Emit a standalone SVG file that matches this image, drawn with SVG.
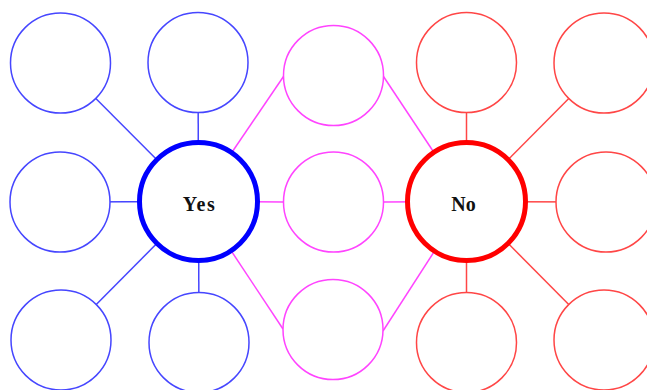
<svg xmlns="http://www.w3.org/2000/svg" width="647" height="390" viewBox="0 0 647 390">
<style>
.b{fill:#fff;stroke:#4646ff;stroke-width:1.5}
.m{fill:#fff;stroke:#ff44ff;stroke-width:1.5}
.r{fill:#fff;stroke:#ff4646;stroke-width:1.5}
.lb{stroke:#4646ff;stroke-width:1.5}
.lm{stroke:#ff44ff;stroke-width:1.5}
.lr{stroke:#ff4646;stroke-width:1.5}
.big{fill:#fff;stroke-width:5}
.t{font-family:"Liberation Serif",serif;font-size:20px;font-weight:bold;fill:#111;text-anchor:middle}
</style>
<rect width="647" height="390" fill="#fff"/>
<g id="connectors">
<line class="lb" x1="198.5" y1="201.5" x2="60.5" y2="63"/>
<line class="lb" x1="198.5" y1="201.5" x2="198" y2="62.5"/>
<line class="lb" x1="198.5" y1="201.5" x2="60" y2="202"/>
<line class="lb" x1="198.5" y1="201.5" x2="61" y2="340"/>
<line class="lb" x1="198.5" y1="201.5" x2="199" y2="342.5"/>
<line class="lm" x1="198.5" y1="201.5" x2="283.5" y2="76.5"/>
<line class="lm" x1="198.5" y1="201.5" x2="283.5" y2="202"/>
<line class="lm" x1="198.5" y1="201.5" x2="283" y2="329"/>
<line class="lm" x1="466.5" y1="201.5" x2="383.5" y2="76.5"/>
<line class="lm" x1="466.5" y1="201.5" x2="383.5" y2="202"/>
<line class="lm" x1="466.5" y1="201.5" x2="383" y2="331"/>
<line class="lr" x1="466.5" y1="201.5" x2="466.5" y2="62.5"/>
<line class="lr" x1="466.5" y1="201.5" x2="604" y2="63"/>
<line class="lr" x1="466.5" y1="201.5" x2="606" y2="202"/>
<line class="lr" x1="466.5" y1="201.5" x2="466.5" y2="342.5"/>
<line class="lr" x1="466.5" y1="201.5" x2="604" y2="340"/>
</g>
<g id="b1"><circle class="b" cx="60.5" cy="63" r="50"/></g>
<g id="b2"><circle class="b" cx="198" cy="62.5" r="50"/></g>
<g id="b3"><circle class="b" cx="60" cy="202" r="50"/></g>
<g id="b4"><circle class="b" cx="61" cy="340" r="50"/></g>
<g id="b5"><circle class="b" cx="199" cy="342.5" r="50"/></g>
<g id="yes"><circle class="big" stroke="#0000ff" cx="198.5" cy="201.5" r="59"/><text class="t" x="199.5" y="211" letter-spacing="1.5">Yes</text></g>
<g id="m1"><circle class="m" cx="333.5" cy="75.5" r="50"/></g>
<g id="m2"><circle class="m" cx="333.5" cy="202" r="50"/></g>
<g id="m3"><circle class="m" cx="333" cy="329.5" r="50"/></g>
<g id="no"><circle class="big" stroke="#ff0000" cx="466.5" cy="201.5" r="59"/><text class="t" x="463.5" y="211">No</text></g>
<g id="r1"><circle class="r" cx="466.5" cy="62.5" r="50"/></g>
<g id="r2"><circle class="r" cx="604" cy="63" r="50"/></g>
<g id="r3"><circle class="r" cx="606" cy="202" r="50"/></g>
<g id="r4"><circle class="r" cx="466.5" cy="342.5" r="50"/></g>
<g id="r5"><circle class="r" cx="604" cy="340" r="50"/></g>
</svg>
